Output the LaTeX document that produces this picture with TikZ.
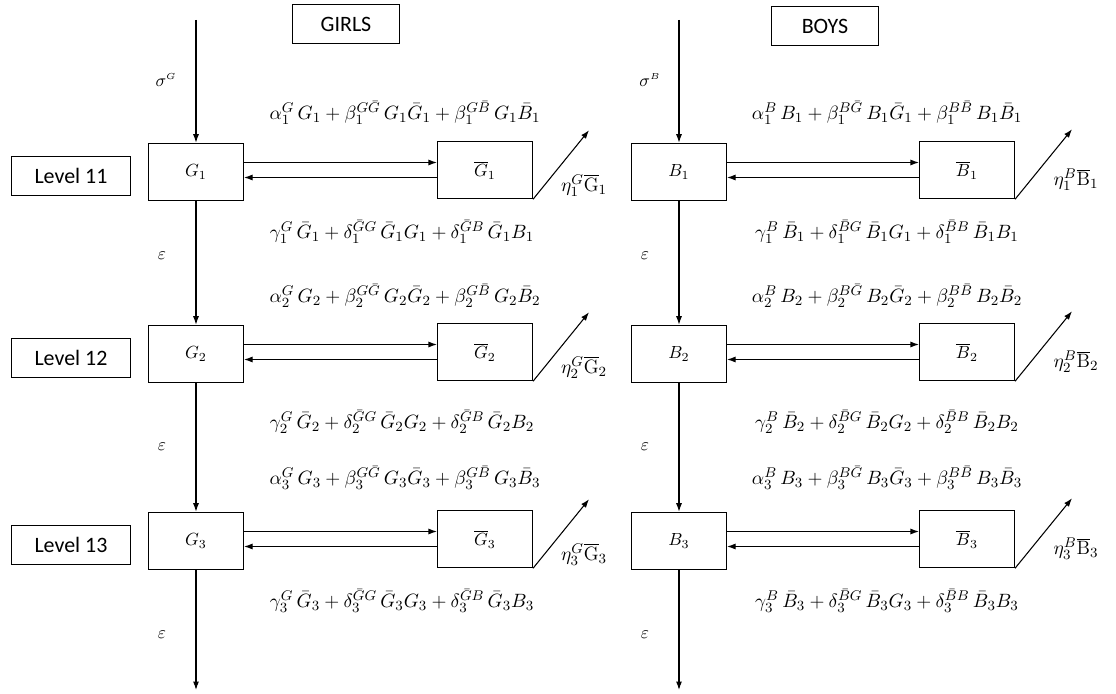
\documentclass[tikz,border=0pt]{standalone}
\usepackage{fontspec}
\newfontfamily\calibri{Carlito}
\usetikzlibrary{arrows.meta}

\tikzset{
  box/.style={draw, minimum width=19mm, minimum height=11.5mm, inner sep=0pt},
  levelbox/.style={draw, minimum width=23.8mm, minimum height=7.8mm, inner sep=0pt,
    font=\calibri\fontsize{12.5}{15}\selectfont},
  headbox/.style={draw, minimum width=21.4mm, minimum height=7.8mm, inner sep=0pt,
    font=\calibri\fontsize{12.5}{15}\selectfont},
  rate/.style={font=\fontsize{11}{13}\selectfont, inner sep=1pt},
  small/.style={font=\fontsize{10}{12}\selectfont}
}

\begin{document}
\begin{tikzpicture}[x=0.2mm, y=-0.2mm, line width=0.6pt,
    >={Latex[length=1.7mm, width=1.2mm]}]
    \useasboundingbox (0,0) rectangle (1116,694);
    % column headings
    \node[headbox] (girls) at (346,24) {GIRLS};
    \node[headbox] (boys) at (825,26) {BOYS};
    \coordinate (gin) at (196,20);
    \coordinate (bin) at (679,20);
    \coordinate (gout) at (196,690);
    \coordinate (bout) at (679,690);
    \node[small] (sg) at (166,80) {$\sigma^{\scriptscriptstyle G}$};
    \node[small] (sb) at (650,80) {$\sigma^{\scriptscriptstyle B}$};

    % one row of boxes per level
    \foreach \i/\y/\ya/\yc in {1/172/113/232, 2/354/296/422, 3/541/478/601} {
        \node[levelbox] (L\i) at (71,\y+4) {Level 1\i};
        \node[box] (G\i) at (196,\y) {$G_{\i}$};
        \node[box] (Gb\i) at (485,\y-2) {$\overline{G}_{\i}$};
        \node[box] (B\i) at (679,\y) {$B_{\i}$};
        \node[box] (Bb\i) at (967,\y-2) {$\overline{B}_{\i}$};
        \draw[->] ([yshift=1.5mm]Gb\i.west -| G\i.east) -- ([yshift=1.5mm]Gb\i.west);
        \draw[->] ([yshift=-1.5mm]Gb\i.west) -- ([yshift=-1.5mm]Gb\i.west -| G\i.east);
        \draw[->] ([yshift=1.5mm]Bb\i.west -| B\i.east) -- ([yshift=1.5mm]Bb\i.west);
        \draw[->] ([yshift=-1.5mm]Bb\i.west) -- ([yshift=-1.5mm]Bb\i.west -| B\i.east);
        % leaving the level
        \draw[->] (Gb\i.south east) -- ++(56,-69);
        \draw[->] (Bb\i.south east) -- ++(57,-70);
        \node[rate] (eg\i) at (584,\y+13) {$\eta_{\i}^{G}\overline{\mathrm{G}}_{\i}$};
        \node[rate] (eb\i) at (1076,\y+8) {$\eta_{\i}^{B}\overline{\mathrm{B}}_{\i}$};
        \node[rate] (ga\i) at (405,\ya)
            {$\alpha_{\i}^{G}\, G_{\i} + \beta_{\i}^{G\bar G}\, G_{\i}\bar G_{\i} + \beta_{\i}^{G\bar B}\, G_{\i}\bar B_{\i}$};
        \node[rate] (gc\i) at (402,\yc)
            {$\gamma_{\i}^{G}\,\bar G_{\i} + \delta_{\i}^{\bar G G}\,\bar G_{\i} G_{\i} + \delta_{\i}^{\bar G B}\,\bar G_{\i} B_{\i}$};
        \node[rate] (ba\i) at (887,\ya)
            {$\alpha_{\i}^{B}\, B_{\i} + \beta_{\i}^{B\bar G}\, B_{\i}\bar G_{\i} + \beta_{\i}^{B\bar B}\, B_{\i}\bar B_{\i}$};
        \node[rate] (bc\i) at (887,\yc)
            {$\gamma_{\i}^{B}\,\bar B_{\i} + \delta_{\i}^{\bar B G}\,\bar B_{\i} G_{\i} + \delta_{\i}^{\bar B B}\,\bar B_{\i} B_{\i}$};
    }

    % moving down the levels
    \draw[->] (gin) -- (G1.north);
    \draw[->] (G1.south) -- (G2.north);
    \draw[->] (G2.south) -- (G3.north);
    \draw[->] (G3.south) -- (gout);
    \draw[->] (bin) -- (B1.north);
    \draw[->] (B1.south) -- (B2.north);
    \draw[->] (B2.south) -- (B3.north);
    \draw[->] (B3.south) -- (bout);
    \node[small] (eps1) at (162,256) {$\varepsilon$};
    \node[small] (eps2) at (162,447) {$\varepsilon$};
    \node[small] (eps3) at (162,635) {$\varepsilon$};
    \node[small] (eps4) at (645,256) {$\varepsilon$};
    \node[small] (eps5) at (645,447) {$\varepsilon$};
    \node[small] (eps6) at (645,635) {$\varepsilon$};
\end{tikzpicture}
\end{document}
